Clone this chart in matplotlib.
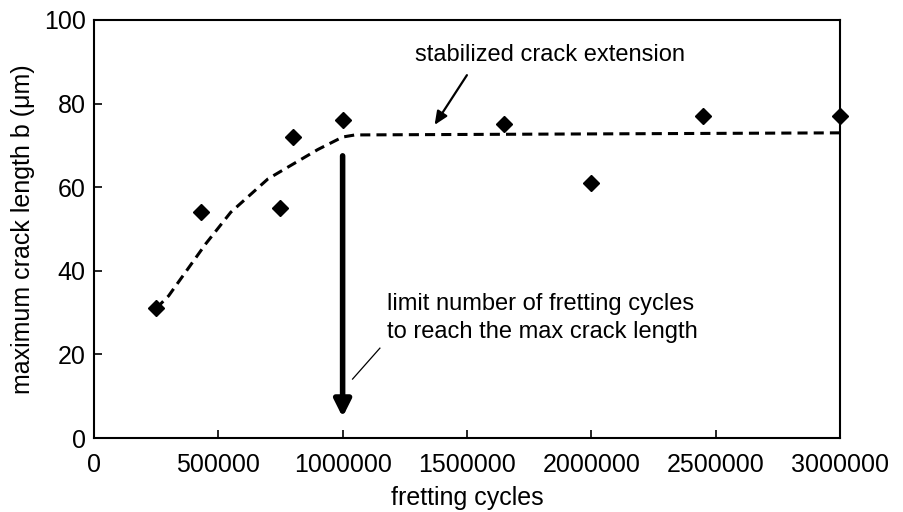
#!/usr/bin/env python3
"""maximum crack length vs fretting cycles"""
import matplotlib
matplotlib.use('Agg')
import matplotlib.pyplot as plt

plt.rcParams['font.family'] = ['Liberation Sans', 'DejaVu Sans']

# measured points
cycles = [250000, 430000, 750000, 800000, 1000000, 1650000, 2000000, 2450000, 3000000]
crack_b = [31, 54, 55, 72, 76, 75, 61, 77, 77]

# dashed trend line
trend_x = [250000, 300000, 450000, 550000, 700000, 900000, 1000000, 1050000, 3000000]
trend_y = [31, 34, 46.5, 54, 62, 69, 72, 72.5, 73]

x_ticks = [0, 500000, 1000000, 1500000, 2000000, 2500000, 3000000]
y_ticks = [0, 20, 40, 60, 80, 100]

fig = plt.figure(figsize=(9.04, 5.12), dpi=100)
ax = fig.add_axes([0.104, 0.1445, 0.825, 0.8165])

ax.plot(trend_x, trend_y, color='black', lw=2.2, linestyle=(0, (3.3, 2)))
ax.plot(cycles, crack_b, 'D', color='black', ms=8, clip_on=False)

# thick vertical arrow at the limit number of cycles
ax.annotate('', xy=(1000000, 5), xytext=(1000000, 67.5),
            arrowprops=dict(arrowstyle='-|>,head_length=0.5,head_width=0.25',
                            mutation_scale=20, color='black', lw=4,
                            shrinkA=0, shrinkB=0))

ax.text(1290000, 91.6, 'stabilized crack extension', fontsize=17,
        va='center', ha='left')
ax.annotate('', xy=(1370000, 74.9), xytext=(1500000, 86.8),
            arrowprops=dict(arrowstyle='-|>,head_length=0.5,head_width=0.22',
                            mutation_scale=16, color='black', lw=1.6,
                            shrinkA=0, shrinkB=0))

ax.text(1180000, 28.8, 'limit number of fretting cycles\nto reach the max crack length',
        fontsize=17, va='center', ha='left', linespacing=1.35)
ax.plot([1040000, 1150000], [14.1, 21.5], color='black', lw=0.9)

ax.set_xlim(0, 3000000)
ax.set_ylim(0, 100)
ax.set_xticks(x_ticks)
ax.set_xticklabels([str(v) for v in x_ticks])
ax.set_yticks(y_ticks)
ax.tick_params(direction='in', length=6, width=1.2, labelsize=18)
ax.tick_params(axis='x', pad=11)
ax.tick_params(axis='y', pad=6)
for s in ax.spines.values():
    s.set_linewidth(1.5)

ax.set_xlabel('fretting cycles', fontsize=18, labelpad=6)
ax.set_ylabel('maximum crack length b (\u03bcm)', fontsize=18, labelpad=6)

fig.savefig('out.png', dpi=100)
